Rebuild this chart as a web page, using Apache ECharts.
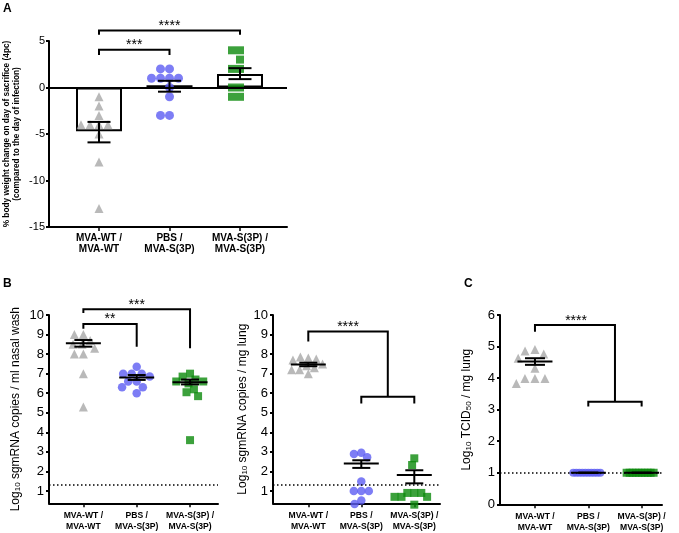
<!DOCTYPE html>
<html><head><meta charset="utf-8">
<script src="https://cdn.jsdelivr.net/npm/echarts@6/dist/echarts.min.js"></script>
<style>html,body{margin:0;padding:0;background:#fff}#c{width:679px;height:533px}</style>
</head><body><div id="c"></div>
<script>
// ---------- data ----------
const groups = ['MVA-WT /\nMVA-WT', 'PBS /\nMVA-S(3P)', 'MVA-S(3P) /\nMVA-S(3P)'];

// Panel A: % body weight change
const weightWT  = [-1, -2, -3, -4, -4, -4, -4, -5, -8, -13];
const weightPBS = [2, 2, 1, 1, 1, 1, 0, -1, -3, -3];
const weightS3P = [4, 4, 3, 2, 2, 0, 0, -1, -1];
const weightMean = [-4.7, 0.25, 1.45];
const weightLow  = [-5.9, -0.45, 0.9];
const weightHigh = [-3.7, 0.72, 2.08];
const weightTicks = [-15, -10, -5, 0, 5];

// Panel B left: log10 sgmRNA copies / ml nasal wash
const nasalWT  = [9.0, 9.0, 8.7, 8.5, 8.5, 8.3, 8.0, 8.0, 7.0, 5.3];
const nasalPBS = [7.35, 7.0, 7.0, 7.0, 6.85, 6.6, 6.6, 6.3, 6.3, 6.0];
const nasalS3P = [7.0, 6.85, 6.7, 6.6, 6.6, 6.5, 6.2, 6.05, 5.85, 3.6];
const nasalMean = [8.55, 6.8, 6.56];
const nasalLow  = [8.38, 6.68, 6.45];
const nasalHigh = [8.72, 6.93, 6.7];

// Panel B right: log10 sgmRNA copies / mg lung
const lungWT  = [7.8, 7.85, 7.75, 7.7, 7.5, 7.4, 7.3, 7.2, 7.2, 7.0];
const lungPBS = [2.96, 2.89, 2.72, 1.48, 1.0, 1.0, 1.0, 0.51, 0.34];
const lungS3P = [2.67, 2.33, 0.9, 0.9, 0.9, 0.7, 0.7, 0.7, 0.3];
const lungMean = [7.47, 2.4, 1.82];
const lungLow  = [7.38, 2.18, 1.39];
const lungHigh = [7.56, 2.57, 2.06];
const sgmTicks = [1, 2, 3, 4, 5, 6, 7, 8, 9, 10];
const sgmLimit = 1.3;

// Panel C: log10 TCID50 / mg lung
const tcidWT  = [4.91, 4.86, 4.76, 4.63, 4.31, 3.99, 3.99, 3.99, 3.83];
const tcidPBS = [1, 1, 1, 1, 1, 1, 1, 1, 1, 1];
const tcidS3P = [1, 1, 1, 1, 1, 1, 1, 1, 1, 1];
const tcidMean = [4.53, 1, 1];
const tcidLow  = [4.42, 1, 1];
const tcidHigh = [4.63, 1, 1];
const tcidTicks = [0, 1, 2, 3, 4, 5, 6];
const tcidLimit = 1.0;

// significance brackets: polylines in (category index, value) units + star label
const sigA = [
  { paths: [[[0, 3.5], [0, 4.06], [1, 4.06], [1, 3.5]]], text: '***', at: [0.5, 4.9] },
  { paths: [[[0, 5.68], [0, 6.14], [2, 6.14], [2, 5.68]]], text: '****', at: [1, 7.0] }
];
const sigNasal = [
  { paths: [[[0, 9.3], [0, 9.54], [1, 9.54], [1, 8.38]]], text: '**', at: [0.5, 9.95] },
  { paths: [[[0, 10.1], [0, 10.3], [2, 10.3], [2, 8.3]]], text: '***', at: [1, 10.68] }
];
const sigLung = [
  { paths: [[[0, 8.65], [0, 9.15], [1.5, 9.15], [1.5, 5.82]], [[1, 5.48], [1, 5.82], [2, 5.82], [2, 5.48]]], text: '****', at: [0.75, 9.57] }
];
const sigTcid = [
  { paths: [[[0, 5.47], [0, 5.68], [1.5, 5.68], [1.5, 3.25]], [[1, 3.1], [1, 3.25], [2, 3.25], [2, 3.1]]], text: '****', at: [0.77, 5.93] }
];

// ---------- styling ----------
const FONT = '"Liberation Sans", Arial, Helvetica, sans-serif';
const GREY = '#a8a8a8', BLUE = '#5c5cf2', GREEN = '#0b8a0b';

const grids = [], xAxes = [], yAxes = [], series = [];

function addPanel(p) {
  const gF = grids.length;
  grids.push({ left: p.frame[0], top: p.top, width: p.frame[1], height: p.height, containLabel: false, outerBoundsMode: 'none' });
  const gD = grids.length;
  grids.push({ left: p.data[0], top: p.top, width: p.data[1], height: p.height, containLabel: false, outerBoundsMode: 'none' });

  const xF = xAxes.length;
  xAxes.push({ type: 'value', gridIndex: gF, min: 0, max: 1,
    axisLine: { show: true, onZero: false, lineStyle: { color: '#000', width: 2 } },
    axisTick: { show: false }, axisLabel: { show: false }, splitLine: { show: false } });
  const yF = yAxes.length;
  yAxes.push({ type: 'value', gridIndex: gF, min: p.min, max: p.max,
    axisLine: { show: true, onZero: false, lineStyle: { color: '#000', width: 2 } },
    axisTick: { show: true, length: 3, lineStyle: { color: '#000', width: 2 }, customValues: p.ticks },
    axisLabel: { color: '#000', fontSize: p.tickFont, fontFamily: FONT, margin: p.labelMargin, customValues: p.ticks },
    splitLine: { show: false },
    name: p.name, nameLocation: 'middle', nameGap: p.nameGap, nameTextStyle: p.nameStyle });

  const xD = xAxes.length;
  const catAxis = (show, margin) => ({ type: 'category', gridIndex: gD, data: groups, boundaryGap: true,
    show: show, position: show ? 'bottom' : 'top',
    jitter: p.jitter, jitterOverlap: false, jitterMargin: margin,
    axisLine: { show: false, onZero: false },
    axisTick: { show: true, alignWithLabel: true, length: 4, lineStyle: { color: '#000', width: 1.5 } },
    axisLabel: { color: '#000', fontWeight: 'bold', fontSize: p.catFont, lineHeight: p.catLine, margin: 6, fontFamily: FONT, interval: 0 } });
  xAxes.push(catAxis(true, p.margin));
  let xD2 = xD;
  if (p.margin2 !== undefined) { xD2 = xAxes.length; xAxes.push(catAxis(false, p.margin2)); }
  const yD = yAxes.length;
  yAxes.push({ type: 'value', gridIndex: gD, min: p.min, max: p.max, show: false });

  const ml = [];
  if (p.zeroLine) ml.push({ yAxis: 0, lineStyle: { type: 'solid', width: 2, color: '#000' } });
  if (p.limit !== undefined) ml.push({ yAxis: p.limit, lineStyle: { type: [1.5, 2.5], width: 1.5, color: '#000' } });
  series.push({ type: 'line', xAxisIndex: xF, yAxisIndex: yF, data: [[0, p.min]], showSymbol: false, silent: true,
    lineStyle: { opacity: 0 },
    markLine: { silent: true, symbol: 'none', label: { show: false }, animation: false, data: ml } });

  if (p.bars) {
    series.push({ type: 'bar', xAxisIndex: xD, yAxisIndex: yD, data: p.bars, barWidth: p.barWidth, silent: true, z: 2,
      itemStyle: { color: 'rgba(255,255,255,0)', borderColor: '#000', borderWidth: 2 } });
  }
  const sym = [['triangle', GREY], ['circle', BLUE], ['rect', GREEN]];
  p.points.forEach((vals, i) => {
    series.push({ type: 'scatter', xAxisIndex: i === 0 ? xD : xD2, yAxisIndex: yD, clip: false, silent: true, z: 3,
      symbol: sym[i][0], symbolSize: p.sizes[i], itemStyle: { color: sym[i][1] },
      data: vals.map(v => [i, v]) });
  });
  series.push({ type: 'custom', xAxisIndex: xD, yAxisIndex: yD, clip: false, silent: true, z: 5,
    encode: { x: 0, y: [1, 2, 3] },
    data: groups.map((_, i) => [i, p.mean[i], p.low[i], p.high[i]]),
    renderItem: function (params, api) {
      const i = api.value(0);
      const m = api.coord([i, api.value(1)]);
      const lo = api.coord([i, api.value(2)]);
      const hi = api.coord([i, api.value(3)]);
      const x = m[0];
      const st = { stroke: '#000', lineWidth: 2 };
      const ch = [];
      if (p.meanW) ch.push({ type: 'line', shape: { x1: x - p.meanW / 2, y1: m[1], x2: x + p.meanW / 2, y2: m[1] }, style: st });
      ch.push({ type: 'line', shape: { x1: x, y1: lo[1], x2: x, y2: hi[1] }, style: st });
      ch.push({ type: 'line', shape: { x1: x - p.capW / 2, y1: lo[1], x2: x + p.capW / 2, y2: lo[1] }, style: st });
      ch.push({ type: 'line', shape: { x1: x - p.capW / 2, y1: hi[1], x2: x + p.capW / 2, y2: hi[1] }, style: st });
      return { type: 'group', children: ch };
    } });
  series.push({ type: 'custom', xAxisIndex: xD, yAxisIndex: yD, clip: false, silent: true, z: 6,
    encode: { x: 0, y: 1 }, data: [[0, p.min]],
    renderItem: function (params, api) {
      const pt = (c, v) => { const a = api.coord([0, v]), b = api.coord([1, v]); return [a[0] + (b[0] - a[0]) * c, a[1]]; };
      const ch = [];
      p.sig.forEach(s => {
        s.paths.forEach(path => ch.push({ type: 'polyline', shape: { points: path.map(q => pt(q[0], q[1])) },
          style: { stroke: '#000', lineWidth: 2, fill: null } }));
        const t = pt(s.at[0], s.at[1]);
        ch.push({ type: 'text', style: { text: s.text, x: t[0], y: t[1] + 3.5, align: 'center', verticalAlign: 'middle',
          font: '14px ' + FONT, fill: '#000' } });
      });
      return { type: 'group', children: ch };
    } });
}

const subName = () => ({ t: { fontSize: 12, fontFamily: FONT, color: '#000' }, s: { fontSize: 8, fontFamily: FONT, color: '#000', verticalAlign: 'bottom', padding: [5, 0, 0, 0] } });

addPanel({ frame: [49, 238], data: [63.75, 211.5], top: 41, height: 186, min: -15, max: 5, ticks: weightTicks,
  tickFont: 11, labelMargin: 4, catFont: 10, catLine: 11, jitter: 60, margin: 0,
  name: '% body weight change on day of sacrifice (4pc)\n(compared to the day of infection)', nameGap: 27,
  nameStyle: { fontSize: 8.3, fontWeight: 'bold', fontFamily: FONT, color: '#000', lineHeight: 10 },
  zeroLine: true, bars: weightMean, barWidth: 46,
  points: [weightWT, weightPBS, weightS3P], sizes: [9, 9, 8],
  mean: weightMean, low: weightLow, high: weightHigh, meanW: 0, capW: 23, sig: sigA });

addPanel({ frame: [49, 169], data: [56.7, 160], top: 315, height: 188.3, min: 0.37, max: 10, ticks: sgmTicks,
  tickFont: 13, labelMargin: 5, catFont: 8.6, catLine: 11.7, jitter: 50, margin: 0,
  name: '{t|Log}{s|10}{t| sgmRNA copies / ml nasal wash}', nameGap: 27,
  nameStyle: { rich: subName() },
  limit: sgmLimit, points: [nasalWT, nasalPBS, nasalS3P], sizes: [9, 8.5, 8],
  mean: nasalMean, low: nasalLow, high: nasalHigh, meanW: 35, capW: 18, sig: sigNasal });

addPanel({ frame: [273, 167], data: [281.8, 159], top: 315, height: 188.3, min: 0.37, max: 10, ticks: sgmTicks,
  tickFont: 13, labelMargin: 5, catFont: 8.6, catLine: 11.7, jitter: 50, margin: -1,
  name: '{t|Log}{s|10}{t| sgmRNA copies / mg lung}', nameGap: 24,
  nameStyle: { rich: subName() },
  limit: sgmLimit, points: [lungWT, lungPBS, lungS3P], sizes: [9, 8.5, 8],
  mean: lungMean, low: lungLow, high: lungHigh, meanW: 35, capW: 18, sig: sigLung });

addPanel({ frame: [500, 162], data: [508.3, 160], top: 315, height: 189.3, min: 0, max: 6, ticks: tcidTicks,
  tickFont: 13, labelMargin: 5, catFont: 8.6, catLine: 11.7, jitter: 50, margin: 1, margin2: -5,
  name: '{t|Log}{s|10}{t| TCID}{s|50}{t| / mg lung}', nameGap: 27,
  nameStyle: { rich: subName() },
  limit: tcidLimit, points: [tcidWT, tcidPBS, tcidS3P], sizes: [9, 8, 8],
  mean: tcidMean, low: tcidLow, high: tcidHigh, meanW: 35, capW: 20, sig: sigTcid });

const chart = echarts.init(document.getElementById('c'), null, { renderer: 'canvas' });
chart.setOption({
  animation: false,
  backgroundColor: '#fff',
  textStyle: { fontFamily: FONT },
  grid: grids, xAxis: xAxes, yAxis: yAxes, series: series,
  graphic: [
    { type: 'text', left: 3, top: 3, style: { text: 'A', font: 'bold 12px ' + FONT, fill: '#000' } },
    { type: 'text', left: 3, top: 278, style: { text: 'B', font: 'bold 12px ' + FONT, fill: '#000' } },
    { type: 'text', left: 464, top: 278, style: { text: 'C', font: 'bold 12px ' + FONT, fill: '#000' } }
  ]
});
</script></body></html>
